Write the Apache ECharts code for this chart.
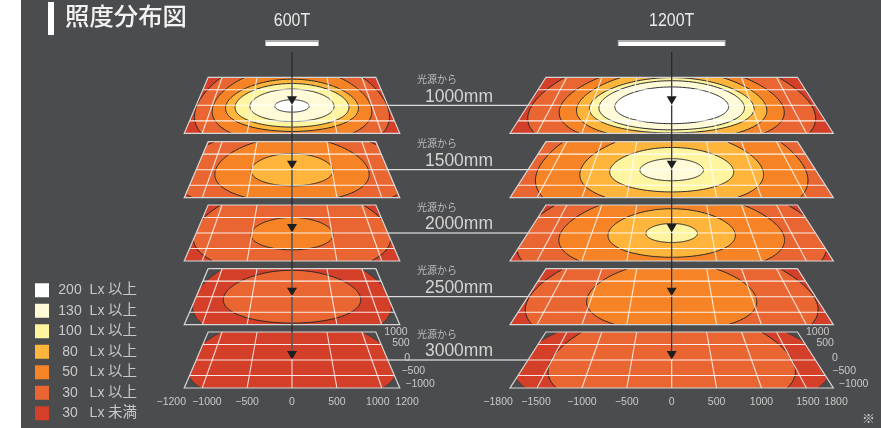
<!DOCTYPE html>
<html><head><meta charset="utf-8">
<style>html,body{margin:0;padding:0;background:#4b4c4e}#c{width:881px;height:428px}</style>
<script src="https://cdn.jsdelivr.net/npm/echarts@6/dist/echarts.min.js"></script>
</head><body><div id="c"></div>
<script>
const titleText = '照度分布図';
const distances = [1000, 1500, 2000, 2500, 3000];
const models = ['600T', '1200T'];
const lampLengths = [600, 1200];
const levelNames = ['200 Lx 以上', '130 Lx 以上', '100 Lx 以上', '80 Lx 以上', '50 Lx 以上', '30 Lx 以上', '30 Lx 未満'];
const levelColors = ['#ffffff', '#fffbd9', '#fff5a1', '#ffb53b', '#f68427', '#e96633', '#d33f28'];
const xTicks600 = [-1200, -1000, -500, 0, 500, 1000, 1200];
const xTicks1200 = [-1800, -1500, -1000, -500, 0, 500, 1000, 1500, 1800];
const yTicks = [1000, 500, 0, -500, -1000];
const xGrid600 = [-1000, -500, 0, 500, 1000];
const xGrid1200 = [-1500, -1000, -500, 0, 500, 1000, 1500];
const yGrid = [500, 0, -500];

// contours: [level index, semi-axis x mm, semi-axis y mm, centre y mm]; outermost first. 9999 = whole plane
const t600_1000 = [[6, 9999, 9999, 0], [5, 1190, 1700, 0], [4, 986, 1230, 0], [3, 827, 840, 0], [2, 710, 700, 0], [1, 526, 520, 0], [0, 215, 200, -20]];
const t600_1500 = [[6, 9999, 9999, 0], [5, 1460, 1380, 0], [4, 957, 1055, 0], [3, 511, 520, 0]];
const t600_2000 = [[6, 9999, 9999, 0], [5, 1230, 1430, 100], [4, 511, 520, -20]];
const t600_2500 = [[6, 1220, 1540, 0], [5, 855, 850, 0]];
const t600_3000 = [[6, 1290, 1450, 0]];
const t1200_1000 = [[6, 9999, 9999, 0], [5, 1750, 1844, 0], [4, 1387, 1339, 0], [3, 1178, 1133, 0], [2, 1023, 890, 0], [1, 906, 790, 0], [0, 710, 590, 0]];
const t1200_1500 = [[5, 9999, 9999, 0], [4, 1680, 1980, 140], [3, 1140, 1200, 30], [2, 773, 715, 0], [1, 397, 355, 0]];
const t1200_2000 = [[6, 9999, 9999, 0], [5, 1880, 1920, 0], [4, 1391, 1333, 0], [3, 793, 780, 0], [2, 322, 306, 0]];
const t1200_2500 = [[6, 9999, 9999, 0], [5, 1780, 1837, 0], [4, 1053, 1117, 0]];
const t1200_3000 = [[6, 1919, 1698, 0], [5, 1510, 1708, 0]];
const contourTable = [
  [t600_1000, t600_1500, t600_2000, t600_2500, t600_3000],
  [t1200_1000, t1200_1500, t1200_2000, t1200_2500, t1200_3000]
];

const rowTops = [77.3, 141.7, 205, 268.7, 332];
const rowH = 56, PX = 0.0898, TOPK = 0.778, YE = 900;
const colCx = [292, 671.7], colHalf = [1200, 1800];
const dark = '#262626', tickCol = '#c9c9c9';
const FONT = '"Liberation Sans","Noto Sans CJK JP",sans-serif';

function project(api, x, y) {
  const c = api.coord([x, y]), c0 = api.coord([0, y]);
  const k = 1 - (y + YE) / (2 * YE) * (1 - TOPK);
  return [c0[0] + (c[0] - c0[0]) * k, c[1]];
}
function contourItem(col, stroke) {
  return function (params, api) {
    const rx = api.value(0), ry = api.value(1), yc = api.value(2), H = colHalf[col];
    const fill = [], arcs = []; let arc = null;
    for (let i = 0; i <= 240; i++) {
      const a = i / 240 * Math.PI * 2;
      const x = rx * Math.cos(a), y = yc + ry * Math.sin(a);
      const cx = Math.max(-H, Math.min(H, x)), cy = Math.max(-YE, Math.min(YE, y));
      const p = project(api, cx, cy);
      fill.push(p);
      if (cx === x && cy === y) { if (!arc) { arc = []; arcs.push(arc); } arc.push(p); } else arc = null;
    }
    if (arcs.length > 1 && rx <= H) { const last = arcs.pop(); arcs[0] = last.concat(arcs[0]); }
    const children = [{ type: 'polygon', shape: { points: fill }, style: { fill: api.visual('color') } }];
    if (stroke) arcs.forEach(a => children.push({ type: 'polyline', shape: { points: a }, style: { stroke, lineWidth: 1, fill: null } }));
    return { type: 'group', children };
  };
}
function overlayItem(col) {
  return function (params, api) {
    const H = colHalf[col], kids = [];
    const xg = col ? xGrid1200 : xGrid600;
    const line = (a, b, w, s) => kids.push({ type: 'line', shape: { x1: a[0], y1: a[1], x2: b[0], y2: b[1] }, style: { stroke: s, lineWidth: w } });
    xg.forEach(v => line(project(api, v, YE), project(api, v, -YE), 1.1, 'rgba(255,255,255,.8)'));
    yGrid.forEach(v => line(project(api, -H, v), project(api, H, v), 1.1, 'rgba(255,255,255,.88)'));
    const f = [project(api, -H, YE), project(api, H, YE), project(api, H, -YE), project(api, -H, -YE)];
    kids.push({ type: 'polygon', shape: { points: f }, style: { fill: null, stroke: '#d6d6d6', lineWidth: 1.2 } });
    return { type: 'group', children: kids };
  };
}
function arrowItem(row) {
  return function (params, api) {
    const c = api.coord([0, 0]);
    const startY = row === 0 ? 52 : rowTops[row - 1] + rowH / 2;
    return { type: 'group', children: [
      { type: 'line', shape: { x1: c[0], y1: startY, x2: c[0], y2: c[1] - 4 }, style: { stroke: dark, lineWidth: 1.2 } },
      { type: 'polygon', shape: { points: [[c[0] - 5, c[1] - 9], [c[0] + 5, c[1] - 9], [c[0], c[1] - 0.6]] }, style: { fill: '#1e1e1e' } }
    ] };
  };
}
function txt(text, x, y, size, fill, align) {
  return { type: 'text', style: { text, x, y, fill, align: align || 'center', verticalAlign: 'middle', font: size + 'px ' + FONT } };
}
function distanceItem(row) {
  return function (params, api) {
    const a = project(api, colHalf[0], 0);
    const endX = colCx[1] - colHalf[1] * PX * (1 + TOPK) / 2;
    return { type: 'group', children: [
      { type: 'line', shape: { x1: a[0], y1: a[1], x2: endX, y2: a[1] }, style: { stroke: '#fff', lineWidth: 1 } },
      txt('光源から', 417, a[1] - 25, 10, '#bdbdbd', 'left'),
      txt(distances[row] + 'mm', 493, a[1] - 8.5, 17.5, '#d4d4d4', 'right')
    ] };
  };
}
function headerItem(col) {
  return function (params, api) {
    const L = lampLengths[col] / 2;
    const l = api.coord([-L, 0])[0], r = api.coord([L, 0])[0];
    const label = txt(models[col], 0, 0, 19, '#ececec', 'center');
    label.x = api.coord([0, 0])[0]; label.y = 20.5; label.scaleX = 0.84;
    return { type: 'group', children: [
      { type: 'rect', shape: { x: l, y: 40, width: r - l, height: 6 }, style: { fill: '#aeaeae' } },
      { type: 'rect', shape: { x: l + 1, y: 42, width: r - l - 2, height: 4 }, style: { fill: '#fff' } },
      label
    ] };
  };
}
const fmt = v => (v < 0 ? '−' + (-v) : '' + v);
const xNudge = [{ '-1200': -13, '-1000': 4.7, '1000': -4, '1200': 7.3 }, { '-1800': -12, '-1500': -1, '1500': 1.5, '1800': 2.7 }];
const yNudgeX = [8.5, 11, 16.5, 7, 5.5], yNudgeY = [0.5, -1, -1.5, -4, -3.5];
function tickItem(col) {
  return function (params, api) {
    const kids = [], H = colHalf[col];
    (col ? xTicks1200 : xTicks600).forEach(v => {
      const p = project(api, v, -YE);
      kids.push(txt(fmt(v), p[0] + (xNudge[col][v] || 0), p[1] + 14, 10.5, tickCol));
    });
    yTicks.forEach((v, i) => {
      const yy = Math.max(-YE, Math.min(YE, v));
      const p = project(api, H, yy);
      kids.push(txt(fmt(v), p[0] + yNudgeX[i], p[1] + yNudgeY[i], 10.5, tickCol, 'left'));
    });
    return { type: 'group', children: kids };
  };
}

const grid = [], xAxis = [], yAxis = [], series = [];
const one = [[0, 0]];
for (let col = 0; col < 2; col++) {
  for (let row = 0; row < 5; row++) {
    const idx = grid.length;
    const w = 2 * colHalf[col] * PX;
    grid.push({ left: colCx[col] - w / 2, top: rowTops[row], width: w, height: rowH });
    xAxis.push({ gridIndex: idx, type: 'value', min: -colHalf[col], max: colHalf[col], show: false });
    yAxis.push({ gridIndex: idx, type: 'value', min: -YE, max: YE, show: false });
    const base = { type: 'custom', xAxisIndex: idx, yAxisIndex: idx, silent: true, animation: false };
    contourTable[col][row].forEach(c => {
      series.push(Object.assign({}, base, {
        name: levelNames[c[0]], itemStyle: { color: levelColors[c[0]] },
        renderItem: contourItem(col, c[1] >= 9999 ? null : c[0] === 6 ? 'rgba(38,38,38,.55)' : dark),
        data: [[c[1], c[2], c[3]]]
      }));
    });
    series.push(Object.assign({}, base, { name: 'grid', renderItem: overlayItem(col), data: one }));
    if (col === 0) series.push(Object.assign({}, base, { name: 'distance', renderItem: distanceItem(row), data: one }));
  }
}
for (let col = 0; col < 2; col++) {
  for (let row = 0; row < 5; row++) {
    const idx = col * 5 + row;
    const base = { type: 'custom', xAxisIndex: idx, yAxisIndex: idx, silent: true, animation: false };
    series.push(Object.assign({}, base, { name: 'arrow', renderItem: arrowItem(row), data: one }));
    if (row === 0) series.push(Object.assign({}, base, { name: 'lamp', renderItem: headerItem(col), data: one }));
    if (row === 4) series.push(Object.assign({}, base, { name: 'ticks', renderItem: tickItem(col), data: one }));
  }
}

const chart = echarts.init(document.getElementById('c'), null, { renderer: 'canvas', width: 881, height: 428 });
chart.setOption({
  animation: false,
  backgroundColor: '#4b4c4e',
  title: { text: titleText, left: 65, top: 4, padding: 0, textStyle: { color: '#f2f2f2', fontSize: 24.4, fontWeight: 500, fontFamily: '"Noto Sans CJK JP"' } },
  legend: {
    left: 35, top: 283, padding: 0, height: 145, orient: 'vertical', selectedMode: false, icon: 'rect',
    itemWidth: 14, itemHeight: 14, itemGap: 6,
    data: levelNames,
    formatter: n => { const p = n.split(' '); return `{n|${p[0]}}{l|${p[1]}}{j|${p[2]}}`; },
    textStyle: {
      color: tickCol, fontFamily: FONT, fontSize: 14,
      rich: {
        n: { width: 32, align: 'right', fontSize: 14, color: tickCol, fontFamily: FONT, height: 14 },
        l: { width: 22, align: 'left', padding: [0, 0, 0, 0], fontSize: 14, color: tickCol, fontFamily: FONT, height: 14 },
        j: { fontSize: 14.5, color: tickCol, fontFamily: FONT, height: 14 }
      }
    }
  },
  graphic: [
    { type: 'rect', left: 0, top: 0, shape: { width: 21, height: 428 }, style: { fill: '#fff' } },
    { type: 'rect', left: 48, top: 2, shape: { width: 6, height: 33 }, style: { fill: '#fff' } },
    { type: 'text', left: 862, top: 412, style: { text: '※', fill: '#cfcfcf', font: '13px "Noto Sans CJK JP"' } }
  ],
  grid, xAxis, yAxis, series
});
</script></body></html>
